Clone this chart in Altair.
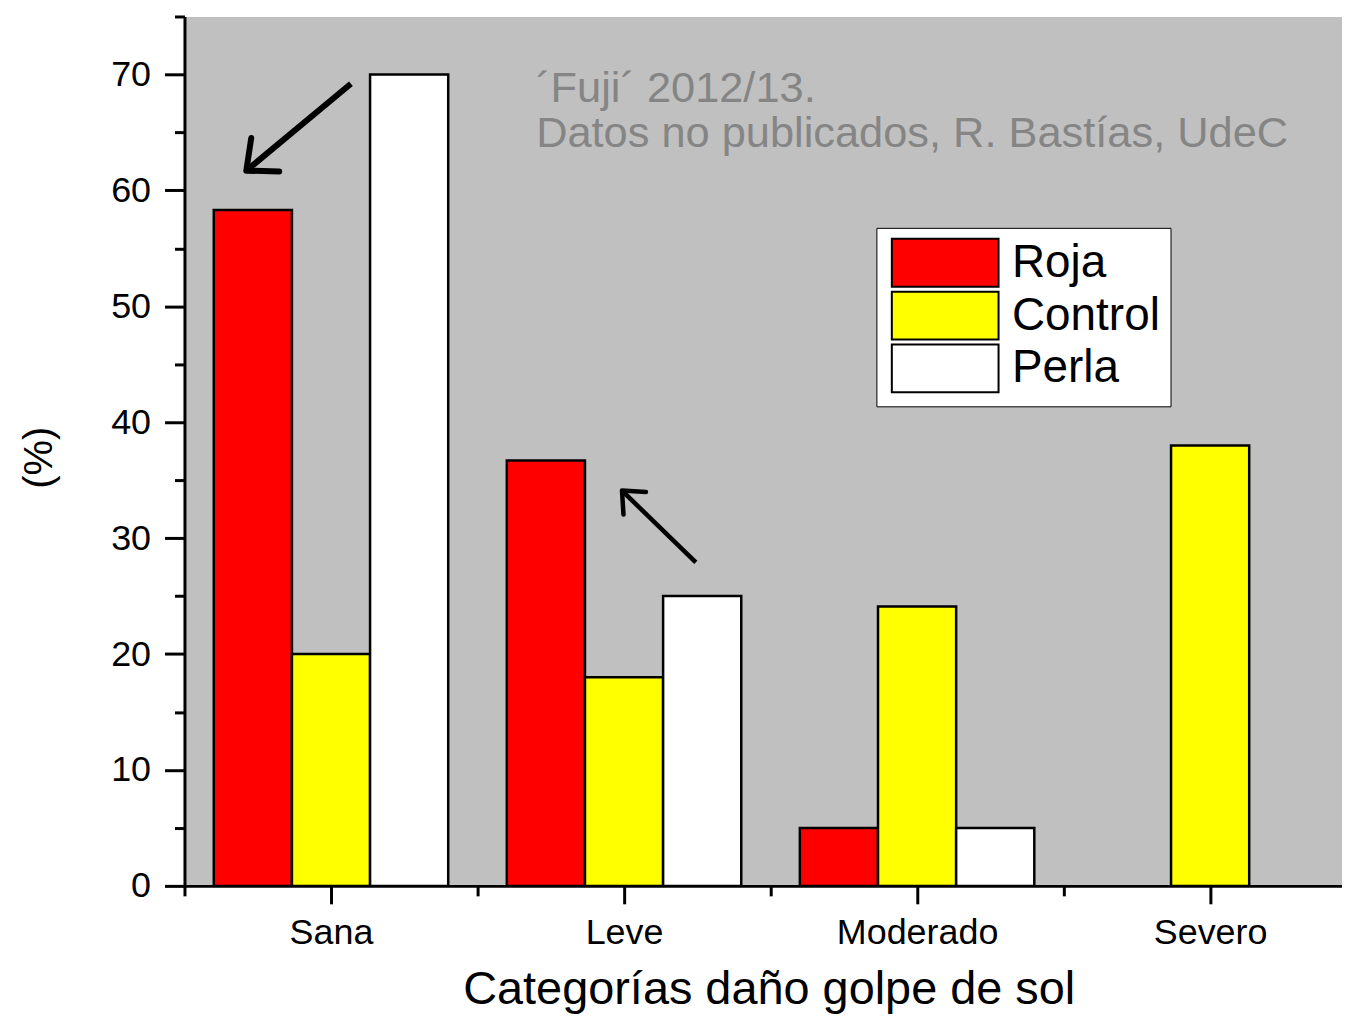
import json
import altair as alt
import pandas as pd

# ---- data ----
categories = ["Sana", "Leve", "Moderado", "Severo"]
series = ["Roja", "Control", "Perla"]
roja = [58.3, 36.7, 5.0, 0.0]
control = [20.0, 18.0, 24.1, 38.0]
perla = [70.0, 25.0, 5.0, 0.0]
series_colors = ["#ff0000", "#ffff00", "#ffffff"]

note_lines = ["´Fuji´ 2012/13.", "Datos no publicados, R. Bastías, UdeC"]
note_x = [0.70, 0.70]
note_y = [67.6, 63.7]

arrow_tail_x = [0.068, 1.245]
arrow_tail_y = [69.2, 27.9]
arrow_head_x = [-0.289, 0.993]
arrow_head_y = [61.7, 34.1]
arrow_angle = [230, 315]
arrow_width = [6.0, 4.5]
arrow_head_size = [3400, 1800]

y_title = "(%)"
x_title = "Categorías daño golpe de sol"

FONT = "Liberation Sans"

# ---- tables ----
values = {"Roja": roja, "Control": control, "Perla": perla}
group_width = 0.8
bar_w = group_width / len(series)
rows = []
for ci, cat in enumerate(categories):
    for si, s in enumerate(series):
        x0 = ci - group_width / 2 + si * bar_w
        rows.append({"cat": cat, "serie": s, "valor": values[s][ci], "base": 0.0,
                     "x0": x0, "x1": x0 + bar_w, "orden": si})
bars_df = pd.DataFrame(rows)

arrows_df = pd.DataFrame({
    "tx": arrow_tail_x, "ty": arrow_tail_y,
    "hx": arrow_head_x, "hy": arrow_head_y,
    "ang": arrow_angle, "w": arrow_width, "hs": arrow_head_size,
})
notes_df = pd.DataFrame({"t": note_lines, "x": note_x, "y": note_y})

x_scale = alt.Scale(domain=[-0.5, 3.45], nice=False, zero=False)
y_scale = alt.Scale(domain=[0, 75], nice=False)

cat_js = json.dumps(categories)
x_axis = alt.Axis(
    values=[-0.5, 0, 0.5, 1, 1.5, 2, 2.5, 3],
    labelExpr=f"datum.value % 1 === 0 ? {cat_js}[datum.value] : ''",
    tickSize={"condition": {"test": "datum.value % 1 === 0", "value": 18}, "value": 10},
    tickWidth=3, tickColor="black", domainWidth=3, domainColor="black",
    labelFont=FONT, labelFontSize=36, labelColor="black", labelPadding=12,
    labelAlign="center",
    title=x_title, titleFont=FONT, titleFontSize=47, titleFontWeight="normal",
    titleColor="black", titleX=586, titleY=118, titleAlign="center",
    titleBaseline="alphabetic", grid=False,
)
y_axis = alt.Axis(
    values=list(range(0, 76, 5)),
    labelExpr="datum.value % 10 === 0 ? datum.label : ''",
    tickSize={"condition": {"test": "datum.value % 10 === 0", "value": 20}, "value": 10},
    tickWidth=3, tickColor="black", domainWidth=3, domainColor="black",
    labelFont=FONT, labelFontSize=36, labelColor="black", labelPadding=14,
    title=y_title, titleFont=FONT, titleFontSize=40, titleFontWeight="normal",
    titleColor="black", titleAngle=270, titleX=-145, titleY=442,
    titleAlign="center", titleBaseline="middle", grid=False,
)

legend = alt.Legend(
    title=None, orient="none", legendX=694, legendY=212,
    symbolType="M-2.23,-1H2.23V1H-2.23Z", symbolSize=2304, symbolOffset=34,
    symbolStrokeColor="black", symbolStrokeWidth=2, symbolOpacity=1,
    labelFont=FONT, labelFontSize=46, labelColor="black", labelOffset=42,
    padding=10, fillColor="white", strokeColor="black", rowPadding=-3,
)

bars = alt.Chart(bars_df).mark_bar(stroke="black", strokeWidth=2.5, opacity=1).encode(
    x=alt.X("x0:Q", scale=x_scale, axis=x_axis),
    x2="x1",
    y=alt.Y("valor:Q", scale=y_scale, axis=y_axis),
    y2="base",
    color=alt.Color("serie:N", scale=alt.Scale(domain=series, range=series_colors),
                    sort=series, legend=legend),
    order="orden:Q",
).transform_filter("datum.valor > 0")

shafts = alt.Chart(arrows_df).mark_rule(color="black", strokeCap="butt").encode(
    x="tx:Q", y="ty:Q", x2="hx:Q", y2="hy:Q",
    strokeWidth=alt.StrokeWidth("w:Q", scale=None),
)

heads = alt.Chart(arrows_df).mark_point(
    shape="M-0.75,0.85L0,0L0.75,0.85", filled=False, color="black",
    opacity=1, strokeJoin="round", strokeCap="round",
).encode(
    x="hx:Q", y="hy:Q",
    angle=alt.Angle("ang:Q", scale=None),
    size=alt.Size("hs:Q", scale=None),
    strokeWidth=alt.StrokeWidth("w:Q", scale=None),
)

notes = alt.Chart(notes_df).mark_text(
    align="left", baseline="alphabetic", font=FONT, fontSize=43.5, color="#858585",
).encode(x="x:Q", y="y:Q", text="t:N")

chart = alt.layer(bars, shafts, heads, notes).properties(
    width=1161, height=872,
    autosize=alt.AutoSizeParams(type="none"),
    padding={"left": 177, "top": 7, "right": 0, "bottom": 128},
    background="white",
).configure_view(fill="#c0c0c0", stroke="transparent")

chart.save("out.html", embed_options={"renderer": "svg", "actions": False})
